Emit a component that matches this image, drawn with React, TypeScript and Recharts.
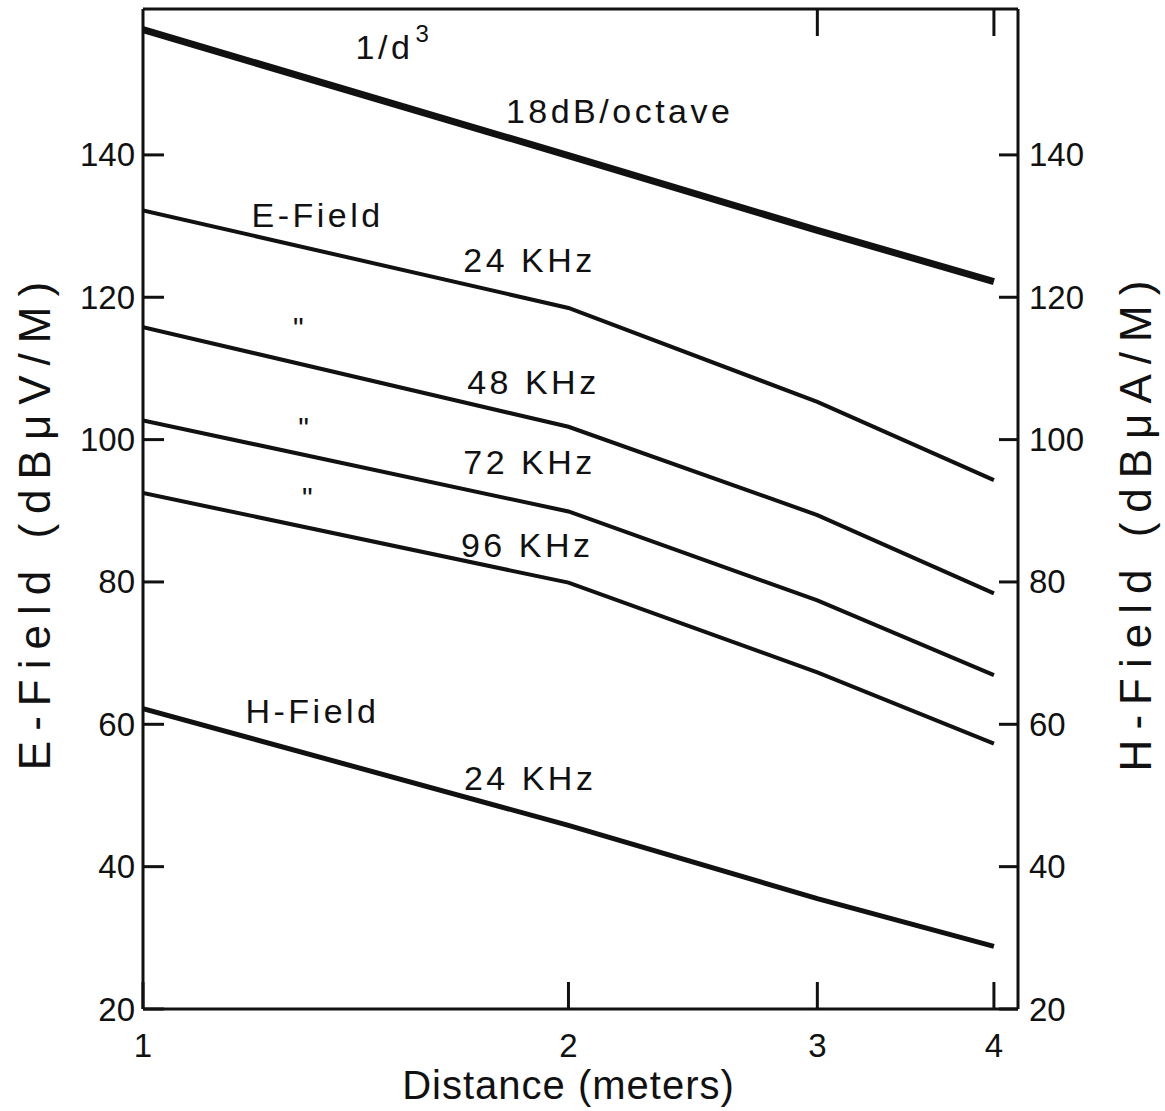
import React from "react";
import {
  ComposedChart,
  Line,
  Scatter,
  XAxis,
  YAxis,
} from "recharts";

// distance in meters (log axis)
const distances = [1, 2, 3, 4];

// field strength at 1, 2, 3, 4 m
const inverseCube = [157.6, 139.9, 129.4, 122.2];
const eField24 = [132.2, 118.5, 105.3, 94.3];
const eField48 = [115.8, 101.8, 89.4, 78.4];
const eField72 = [102.7, 89.9, 77.4, 66.9];
const eField96 = [92.5, 79.9, 67.3, 57.3];
const hField24 = [62.2, 45.8, 35.5, 28.8];

const xTicks = [1, 2, 3, 4];
const topTicks = [3, 4];
const yTicks = [20, 40, 60, 80, 100, 120, 140];

// in-plot annotations, placed in data space
const noteText = [
  "1/d^3",
  "18dB/octave",
  "E-Field",
  "24 KHz",
  "\"",
  "48 KHz",
  "\"",
  "72 KHz",
  "\"",
  "96 KHz",
  "H-Field",
  "24 KHz",
];
const noteDist = [1.505, 2.174, 1.329, 1.877, 1.288, 1.889, 1.299, 1.877, 1.307, 1.87, 1.318, 1.879];
const noteLevel = [155.2, 146.2, 131.5, 125.2, 116.8, 108.1, 102.7, 96.8, 92.9, 85.2, 61.8, 52.5];

const chartData = distances.map((d, i) => ({
  d,
  inv: inverseCube[i],
  e24: eField24[i],
  e48: eField48[i],
  e72: eField72[i],
  e96: eField96[i],
  h24: hField24[i],
}));

const notes = noteText.map((text, i) => ({ d: noteDist[i], v: noteLevel[i], text }));

const INK = "#111";
const FONT = "'Liberation Sans', Arial, sans-serif";
const X_DOMAIN = [1, 4.16];
const Y_DOMAIN = [20, 160.5];

const LeftTick = (p: any) => (
  <g>
    <line x1={p.x} y1={p.y} x2={p.x + 21} y2={p.y} stroke={INK} strokeWidth={3} />
    <text x={p.x - 8} y={p.y} textAnchor="end" dominantBaseline="central" fontSize={33} fontFamily={FONT} fill={INK}>
      {p.payload.value}
    </text>
  </g>
);

const RightTick = (p: any) => (
  <g>
    <line x1={p.x} y1={p.y} x2={p.x - 19} y2={p.y} stroke={INK} strokeWidth={3} />
    <text x={p.x + 11} y={p.y} textAnchor="start" dominantBaseline="central" fontSize={33} fontFamily={FONT} fill={INK}>
      {p.payload.value}
    </text>
  </g>
);

const BottomTick = (p: any) => (
  <g>
    <line x1={p.x} y1={p.y} x2={p.x} y2={p.y - 27} stroke={INK} strokeWidth={3} />
    <text x={p.x} y={p.y + 36} textAnchor="middle" dominantBaseline="central" fontSize={33} fontFamily={FONT} fill={INK}>
      {p.payload.value}
    </text>
  </g>
);

const TopTick = (p: any) => (
  <line x1={p.x} y1={p.y} x2={p.x} y2={p.y + 27} stroke={INK} strokeWidth={3} />
);

const NoteText = (p: any) => {
  const t: string = p.payload.text;
  if (t === "\"") {
    return (
      <text x={p.cx} y={p.cy + 18} textAnchor="middle" fontSize={30} fontFamily={FONT} fill={INK}>
        {t}
      </text>
    );
  }
  const [base, sup] = t.split("^");
  return (
    <text
      x={p.cx}
      y={p.cy}
      textAnchor="middle"
      dominantBaseline="central"
      fontSize={34}
      letterSpacing={3.5}
      fontFamily={FONT}
      fill={INK}
    >
      {base}
      {sup && (
        <tspan dx={2} dy={-14} fontSize={24}>
          {sup}
        </tspan>
      )}
    </text>
  );
};

const SideTitle = (p: any) => {
  const vb = p.viewBox;
  const x = p.side === "left" ? vb.x + 34 : vb.x + 117;
  const y = vb.y + vb.height / 2 + 12;
  return (
    <text
      x={x}
      y={y}
      transform={`rotate(-90 ${x} ${y})`}
      textAnchor="middle"
      dominantBaseline="central"
      fontSize={44}
      letterSpacing={10}
      fontFamily={FONT}
      fill={INK}
    >
      {p.value}
    </text>
  );
};

const BottomTitle = (p: any) => {
  const vb = p.viewBox;
  return (
    <text
      x={vb.x + vb.width / 2 - 12}
      y={vb.y + 76}
      textAnchor="middle"
      dominantBaseline="central"
      fontSize={40}
      letterSpacing={1}
      fontFamily={FONT}
      fill={INK}
    >
      {p.value}
    </text>
  );
};

const seriesKeys = ["e24", "e48", "e72", "e96"];

export default function App() {
  return (
    <div style={{ position: "absolute", left: 0, top: 0, background: "#fff" }}>
      <ComposedChart
        width={1165}
        height={1111}
        data={chartData}
        margin={{ top: 8, right: 0, bottom: 0, left: 0 }}
      >
        <XAxis
          dataKey="d"
          type="number"
          scale="log"
          domain={X_DOMAIN}
          ticks={xTicks}
          allowDataOverflow
          height={102}
          tickSize={0}
          tickMargin={0}
          tickLine={false}
          tick={<BottomTick />}
          axisLine={{ stroke: INK, strokeWidth: 3 }}
          label={<BottomTitle value="Distance (meters)" />}
        />
        <XAxis
          xAxisId="top"
          orientation="top"
          dataKey="d"
          type="number"
          scale="log"
          domain={X_DOMAIN}
          ticks={topTicks}
          allowDataOverflow
          height={1}
          tickSize={0}
          tickMargin={0}
          tickLine={false}
          tick={<TopTick />}
          axisLine={{ stroke: INK, strokeWidth: 3 }}
        />
        <YAxis
          type="number"
          domain={Y_DOMAIN}
          ticks={yTicks}
          allowDataOverflow
          width={143}
          tickSize={0}
          tickMargin={0}
          tickLine={false}
          tick={<LeftTick />}
          axisLine={{ stroke: INK, strokeWidth: 3 }}
          label={<SideTitle side="left" value="E-Field (dBμV/M)" />}
        />
        <YAxis
          yAxisId="right"
          orientation="right"
          type="number"
          domain={Y_DOMAIN}
          ticks={yTicks}
          allowDataOverflow
          width={147}
          tickSize={0}
          tickMargin={0}
          tickLine={false}
          tick={<RightTick />}
          axisLine={{ stroke: INK, strokeWidth: 3 }}
          label={<SideTitle side="right" value="H-Field (dBμA/M)" />}
        />
        <Line
          dataKey="inv"
          type="linear"
          stroke={INK}
          strokeWidth={7}
          dot={false}
          isAnimationActive={false}
        />
        {seriesKeys.map((k) => (
          <Line
            key={k}
            dataKey={k}
            type="linear"
            stroke={INK}
            strokeWidth={4}
            dot={false}
            isAnimationActive={false}
          />
        ))}
        <Line
          dataKey="h24"
          type="linear"
          stroke={INK}
          strokeWidth={5}
          dot={false}
          isAnimationActive={false}
        />
        <Scatter
          data={notes}
          dataKey="v"
          shape={<NoteText />}
          isAnimationActive={false}
        />
      </ComposedChart>
    </div>
  );
}
